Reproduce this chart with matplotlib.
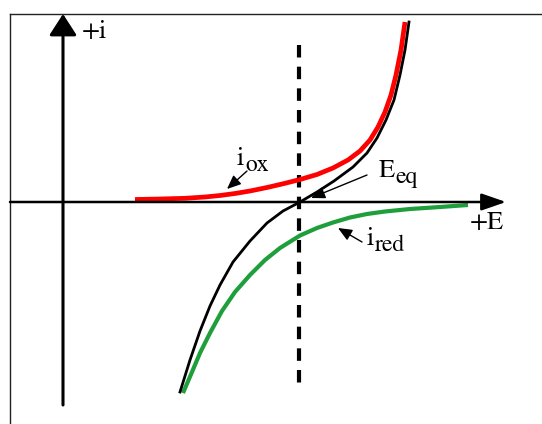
import matplotlib.pyplot as plt

plt.rcParams['font.family'] = 'STIXGeneral'

# potential (E) and current (i), arbitrary units
E_ox = [0.72, 0.97, 1.22, 1.42, 1.57, 1.72, 1.87, 2.04, 2.20, 2.37, 2.54, 2.70,
        2.85, 2.97, 3.07, 3.15, 3.22, 3.28, 3.33, 3.38, 3.42]
i_ox = [0.025, 0.03, 0.037, 0.05, 0.065, 0.085, 0.11, 0.145, 0.182, 0.225, 0.275, 0.34,
        0.42, 0.51, 0.62, 0.75, 0.90, 1.07, 1.27, 1.52, 1.80]

E_net = [1.17, 1.27, 1.37, 1.47, 1.57, 1.70, 1.87, 2.04, 2.20, 2.37, 2.54, 2.71,
         2.90, 3.04, 3.14, 3.23, 3.31, 3.37, 3.42, 3.46]
i_net = [-1.90, -1.58, -1.29, -1.04, -0.83, -0.60, -0.39, -0.21, -0.09, 0.00, 0.10, 0.21,
         0.35, 0.49, 0.64, 0.82, 1.02, 1.27, 1.52, 1.80]

E_red = [1.20, 1.29, 1.37, 1.47, 1.59, 1.72, 1.87, 2.02, 2.17, 2.37, 2.54, 2.70,
         2.87, 3.04, 3.22, 3.47, 3.77, 4.05]
i_red = [-1.91, -1.70, -1.51, -1.31, -1.09, -0.90, -0.73, -0.58, -0.46, -0.335, -0.26, -0.205,
         -0.155, -0.12, -0.095, -0.07, -0.05, -0.03]

E_eq = 2.36

fig = plt.figure(figsize=(5.42, 4.24), dpi=100)
ax = fig.add_axes([0, 0, 1, 1])
ax.set_xlim(-0.63, 4.79)
ax.set_ylim(-2.22, 2.02)
ax.axis('off')

# frame (top and left edges only)
ax.plot([-0.53, 4.79], [1.88, 1.88], color='#222222', lw=1)
ax.plot([-0.53, -0.53], [1.88, -2.22], color='#222222', lw=1)

# axes with arrow heads
ax.annotate('', xy=(4.43, 0), xytext=(-0.53, 0),
            arrowprops=dict(arrowstyle='-|>,head_length=0.75,head_width=0.26',
                            mutation_scale=20, lw=1.8, color='k',
                            shrinkA=0, shrinkB=0))
ax.annotate('', xy=(0, 1.88), xytext=(0, -2.03),
            arrowprops=dict(arrowstyle='-|>,head_length=0.65,head_width=0.42',
                            mutation_scale=20, lw=2.2, color='k',
                            shrinkA=0, shrinkB=0))
ax.text(0.19, 1.70, '+i', fontsize=19, ha='left', va='center')
ax.text(4.07, -0.21, '+E', fontsize=19, ha='left', va='center')

# equilibrium potential
ax.plot([E_eq, E_eq], [1.57, -1.86], color='k', lw=3, linestyle=(0, (3.0, 2.2)))

# curves
ax.plot(E_ox, i_ox, color='#ff0000', lw=3.4, solid_capstyle='butt', solid_joinstyle='round')
ax.plot(E_red, i_red, color='#1f9e3c', lw=3.0, solid_capstyle='butt', solid_joinstyle='round')
ax.plot(E_net, i_net, color='k', lw=2.0, solid_joinstyle='round')

# labels (main letter + subscript) with pointers
arrow_kw = dict(arrowstyle='-|>,head_length=0.7,head_width=0.3',
                mutation_scale=12, lw=1.0, color='k', shrinkA=0, shrinkB=0)
ax.text(1.74, 0.37, 'i', fontsize=19, ha='left', va='baseline')
ax.text(1.82, 0.31, 'ox', fontsize=17, ha='left', va='baseline')
ax.annotate('', xy=(1.64, 0.13), xytext=(1.84, 0.31), arrowprops=arrow_kw)

ax.text(3.16, 0.25, 'E', fontsize=19, ha='left', va='baseline')
ax.text(3.32, 0.19, 'eq', fontsize=17, ha='left', va='baseline')
ax.annotate('', xy=(2.48, 0.04), xytext=(3.04, 0.27), arrowprops=arrow_kw)

ax.text(3.04, -0.43, 'i', fontsize=19, ha='left', va='baseline')
ax.text(3.12, -0.49, 'red', fontsize=17, ha='left', va='baseline')
ax.annotate('', xy=(2.75, -0.26), xytext=(2.99, -0.40), arrowprops=arrow_kw)

fig.savefig('out.png', dpi=100, facecolor='white')
